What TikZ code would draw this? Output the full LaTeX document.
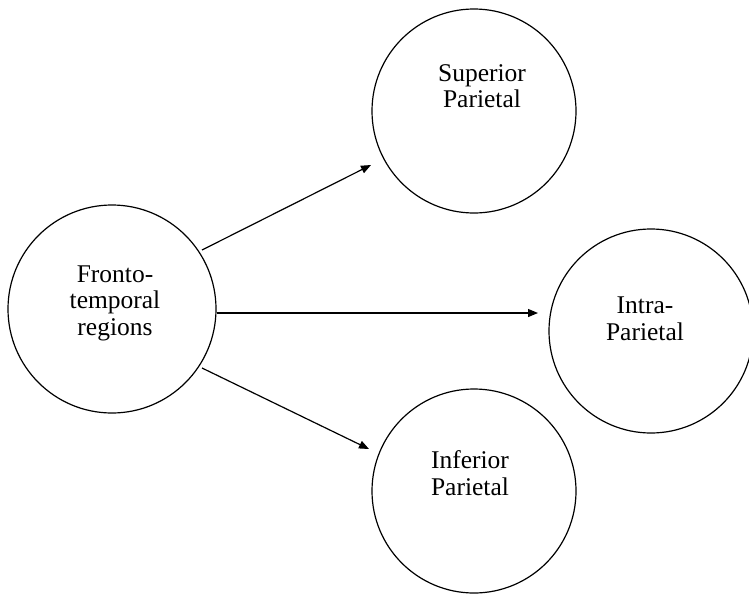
\documentclass[tikz,border=0pt]{standalone}
\usepackage{fontspec}
\setmainfont{Liberation Serif}
\usetikzlibrary{arrows.meta}
\begin{document}
\begin{tikzpicture}[x=1pt,y=-1pt,
  region/.style={circle,draw,line width=1.2pt,inner sep=0pt},
  caption/.style={align=center,inner sep=0pt,font=\fontsize{25.5}{26.5}\selectfont},
  link/.style={line width=1.2pt,-{Triangle[length=10pt,width=8pt]}}]
  \useasboundingbox[fill=white] (0,0) rectangle (749,597);
  % circles
  \node[region,minimum size=208pt] (F) at (112,309) {};
  \node[region,minimum size=204pt] (S) at (474,111) {};
  \node[region,minimum size=204pt] (I) at (651,331) {};
  \node[region,minimum size=204pt] (P) at (474,491) {};
  % labels
  \node[caption] (Ft) at (115,303) {Fronto-\\temporal\\regions};
  \node[caption] (St) at (482,86) {Superior\\Parietal};
  \node[caption] (It) at (645,319) {Intra-\\Parietal};
  \node[caption] (Pt) at (470,473) {Inferior\\Parietal};
  % arrow ends
  \coordinate (toS) at (371,165);
  \coordinate (toI) at (538,313);
  \coordinate (toP) at (369,449);
  \coordinate (fromS) at (202,250);
  \coordinate (fromI) at (217,313);
  \coordinate (fromP) at (202,368);
  \draw[link] (fromS) -- (toS);
  \draw[link] (fromI) -- (toI);
  \draw[link] (fromP) -- (toP);
\end{tikzpicture}
\end{document}
